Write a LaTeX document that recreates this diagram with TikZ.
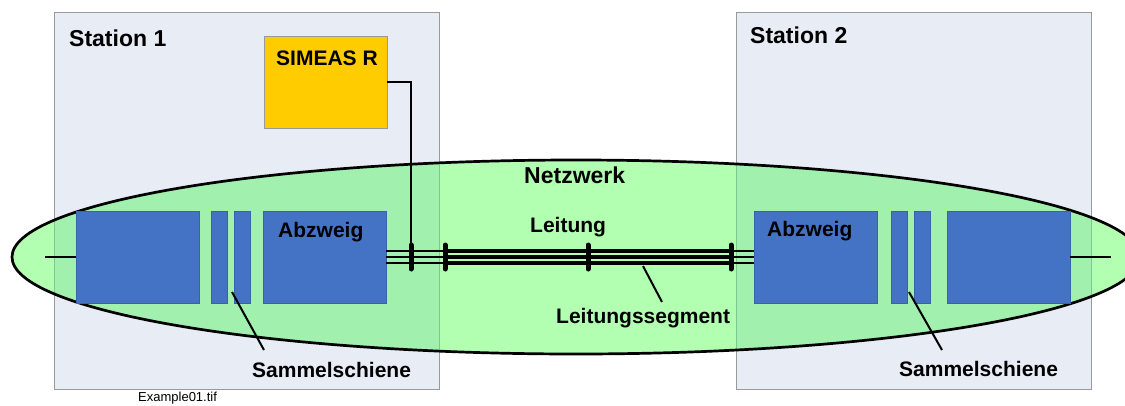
\documentclass[tikz,border=0pt]{standalone}
\usepackage{fontspec}
\setmainfont{Liberation Sans}
\usepackage{tikz}

\definecolor{stationfill}{HTML}{E8ECF5}
\definecolor{stationline}{HTML}{9A9A9A}
\definecolor{netgreen}{HTML}{B2FFB2}
\definecolor{netoverlap}{HTML}{A1F0AE}
\definecolor{netline}{HTML}{7DC88C}
\definecolor{blockblue}{HTML}{4472C4}
\definecolor{blockline}{HTML}{3A62A8}
\definecolor{simyellow}{HTML}{FFCC00}

\tikzset{
  station/.style={draw=stationline, fill=stationfill, line width=1pt, inner sep=0pt, outer sep=0pt, anchor=north west},
  block/.style={draw=blockline, fill=blockblue, line width=0.6pt, inner sep=0pt, outer sep=0pt, anchor=north west, minimum height=92pt},
  lbl/.style={font=\fontsize{21pt}{25pt}\selectfont\bfseries, inner sep=0pt, anchor=base west},
  biglbl/.style={font=\fontsize{23pt}{27pt}\selectfont\bfseries, inner sep=0pt, anchor=base west},
  wire/.style={line width=2pt},
  tick/.style={line width=5pt, line cap=round},
}

\begin{document}
\begin{tikzpicture}[x=1pt, y=-1pt]
				\useasboundingbox (0,0) rectangle (1125,405);
				% stations
				\node[station, minimum width=385pt, minimum height=377pt] (st1) at (54,12) {};
				\node[station, minimum width=355pt, minimum height=377pt] (st2) at (736,12) {};
				
				% netzwerk
				\fill[netgreen] (576,257) ellipse [x radius=564, y radius=97];
				\begin{scope}
					\clip (576,257) ellipse [x radius=564, y radius=97];
					\draw[netline, fill=netoverlap, line width=1pt] (st1.north west) rectangle (st1.south east);
					\draw[netline, fill=netoverlap, line width=1pt] (st2.north west) rectangle (st2.south east);
				\end{scope}
				\draw[line width=2.7pt] (576,257) ellipse [x radius=564, y radius=97];
				
				\node[biglbl] (s1txt) at (69,46) {Station 1};
				\node[biglbl] (s2txt) at (750,43) {Station 2};
				\node[biglbl] (nettxt) at (524,183) {Netzwerk};
				
				% SIMEAS
				\node[draw=black!40, fill=simyellow, line width=1pt, inner sep=0pt, outer sep=0pt, anchor=north west, minimum width=123pt, minimum height=92pt] (sim) at (264,36) {};
				\node[lbl] (simtxt) at (276,65) {SIMEAS R};
				
				% blocks station 1
				\node[block, minimum width=123pt] (la) at (76,211) {};
				\node[block, minimum width=16pt] (lb1) at (211,211) {};
				\node[block, minimum width=16pt] (lb2) at (234,211) {};
				\node[block, minimum width=123pt] (lab) at (263,211) {};
				\node[lbl] (labtxt) at (278,237) {Abzweig};
				
				% blocks station 2
				\node[block, minimum width=123pt] (rab) at (754,211) {};
				\node[block, minimum width=16pt] (rb1) at (891,211) {};
				\node[block, minimum width=16pt] (rb2) at (914,211) {};
				\node[block, minimum width=123pt] (rd) at (947,211) {};
				\node[lbl] (rabtxt) at (767,236) {Abzweig};
				
				% leitung
				\coordinate (t1) at (411,257);
				\coordinate (t2) at (445,257);
				\coordinate (t3) at (588,257);
				\coordinate (t4) at (731,257);
				\foreach \dy in {6,0,-6} {
					\draw[wire] ([yshift=\dy pt]lab.east) -- ([yshift=\dy pt]rab.west);
					\draw[line width=3.4pt] ([yshift=\dy pt]t2) -- ([yshift=\dy pt]t4);
				}
				\draw[line width=1.3pt] (sim.east) -| (t1);
				\foreach \t in {t1,t2,t3,t4}
					\draw[tick] ([yshift=12pt]\t) -- ([yshift=-12pt]\t);
				
				\coordinate (lstub) at (45,257);
				\coordinate (rstub) at (1111,257);
				\draw[line width=2.4pt] (lstub) -- (la.west);
				\draw[line width=2.4pt] (rd.east) -- (rstub);
				
				\node[lbl] (leittxt) at (530,232) {Leitung};
				\node[lbl] (segtxt) at (556,323) {Leitungssegment};
				\coordinate (segp) at (643,266);
				\coordinate (sege) at (662,302);
				\draw[line width=2pt] (segp) -- (sege);
				
				% sammelschienen
				\node[lbl] (ls1txt) at (252,377) {Sammelschiene};
				\node[lbl] (ls2txt) at (899,376) {Sammelschiene};
				\coordinate (sp1) at (232,292);
				\coordinate (se1) at (264,350);
				\coordinate (sp2) at (909,292);
				\coordinate (se2) at (942,350);
				\draw[line width=2pt] (sp1) -- (se1);
				\draw[line width=2pt] (sp2) -- (se2);
				
				\node[font=\fontsize{13pt}{15pt}\selectfont, inner sep=0pt, anchor=base west] (file) at (138,401) {Example01.tif};
			\end{tikzpicture}
\end{document}
